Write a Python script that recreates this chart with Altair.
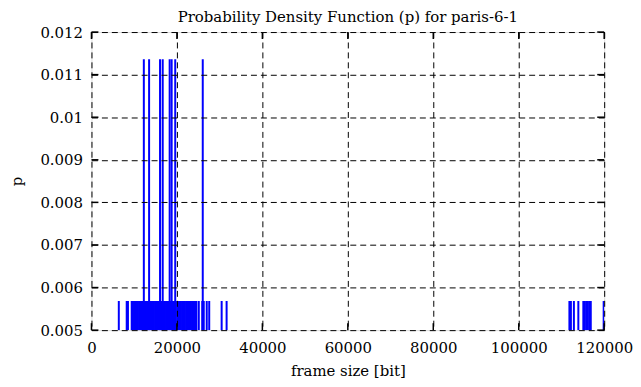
import altair as alt
import pandas as pd

# frame sizes [bit] seen once (p ~ 1/176) and twice (p ~ 2/176)
low_sizes = [
    6400, 8250, 8540,
    9420, 9710, 9980, 10310, 10590, 10870, 11150, 11460, 11730, 12040,
    12310, 12600, 12890, 13170, 13460, 13740, 14030, 14310, 14600, 14880,
    15170, 15450, 15740, 16020, 16310, 16590, 16880, 17160, 17450, 17730,
    18020, 18300, 18590, 18870, 19160, 19440, 19730,
    20070, 20350, 20640, 20930, 21210, 21490,
    21860, 22150, 22440, 22720, 23010, 23290, 23580, 23860, 24150, 24430, 24560,
    25120, 25930, 26280, 26980, 27560, 30470, 31630,
    111860, 112210, 112910, 113950, 115120, 115470, 115820, 116170, 116510,
    116860, 119880,
]
high_sizes = [12256, 13488, 16047, 16674, 18302, 18767, 19605, 26047]
p_low = 0.005682
p_high = 0.011364

x_ticks = [0, 20000, 40000, 60000, 80000, 100000, 120000]
y_ticks = [0.005, 0.006, 0.007, 0.008, 0.009, 0.010, 0.011, 0.012]

df = pd.DataFrame({
    "size": low_sizes + high_sizes,
    "p": [p_low] * len(low_sizes) + [p_high] * len(high_sizes),
})
xt = pd.DataFrame({"size": x_ticks})
yt = pd.DataFrame({"p": y_ticks})

W, H = 516, 300
FONT = "DejaVu Serif"
FS = 15

xs = alt.Scale(domain=[0, 120000], nice=False)
ys = alt.Scale(domain=[0.005, 0.012], nice=False, zero=False)

xaxis = alt.Axis(values=x_ticks, format="d", grid=True, gridDash=[6, 4],
                 gridColor="black", gridOpacity=1, gridWidth=1, ticks=False,
                 domain=False, labelFont=FONT, labelFontSize=FS, labelColor="black",
                 labelPadding=11, title="frame size [bit]", titleFont=FONT,
                 titleFontSize=FS, titleFontWeight="normal", titleColor="black",
                 titlePadding=8, zindex=1, labelFlush=False)
yaxis = alt.Axis(values=y_ticks, format="~g", grid=True, gridDash=[6, 4],
                 gridColor="black", gridOpacity=1, gridWidth=1, ticks=False,
                 domain=False, labelFont=FONT, labelFontSize=FS, labelColor="black",
                 labelPadding=9, title="p", titleFont=FONT, titleFontSize=FS,
                 titleFontWeight="normal", titleColor="black", titlePadding=15,
                 zindex=1, labelFlush=False)

bars = alt.Chart(df).mark_rule(color="#0000ff", strokeWidth=2, clip=True).encode(
    x=alt.X("size:Q", scale=xs, axis=xaxis),
    y=alt.Y("p:Q", scale=ys, axis=yaxis),
    y2=alt.datum(0.005),
)

tk = dict(color="black", strokeWidth=1.5)
xb = alt.Chart(xt).mark_rule(**tk).encode(
    x=alt.X("size:Q", scale=xs, axis=xaxis), y=alt.value(H), y2=alt.value(H - 7))
xtp = alt.Chart(xt).mark_rule(**tk).encode(
    x=alt.X("size:Q", scale=xs, axis=xaxis), y=alt.value(0), y2=alt.value(7))
yl = alt.Chart(yt).mark_rule(**tk).encode(
    y=alt.Y("p:Q", scale=ys, axis=yaxis), x=alt.value(0), x2=alt.value(7))
yr = alt.Chart(yt).mark_rule(**tk).encode(
    y=alt.Y("p:Q", scale=ys, axis=yaxis), x=alt.value(W), x2=alt.value(W - 7))

chart = alt.layer(bars, xb, xtp, yl, yr).properties(
    width=W, height=H,
    title=alt.TitleParams("Probability Density Function (p) for paris-6-1",
                          font=FONT, fontSize=FS, fontWeight="normal",
                          color="black", anchor="middle", offset=0),
    autosize=alt.AutoSizeParams(type="none"),
    padding={"left": 84, "top": 23, "right": 29, "bottom": 52},
).configure_view(stroke="black", strokeWidth=2).configure(background="white")

chart.save("out.html", embed_options={"renderer": "svg", "actions": False})
